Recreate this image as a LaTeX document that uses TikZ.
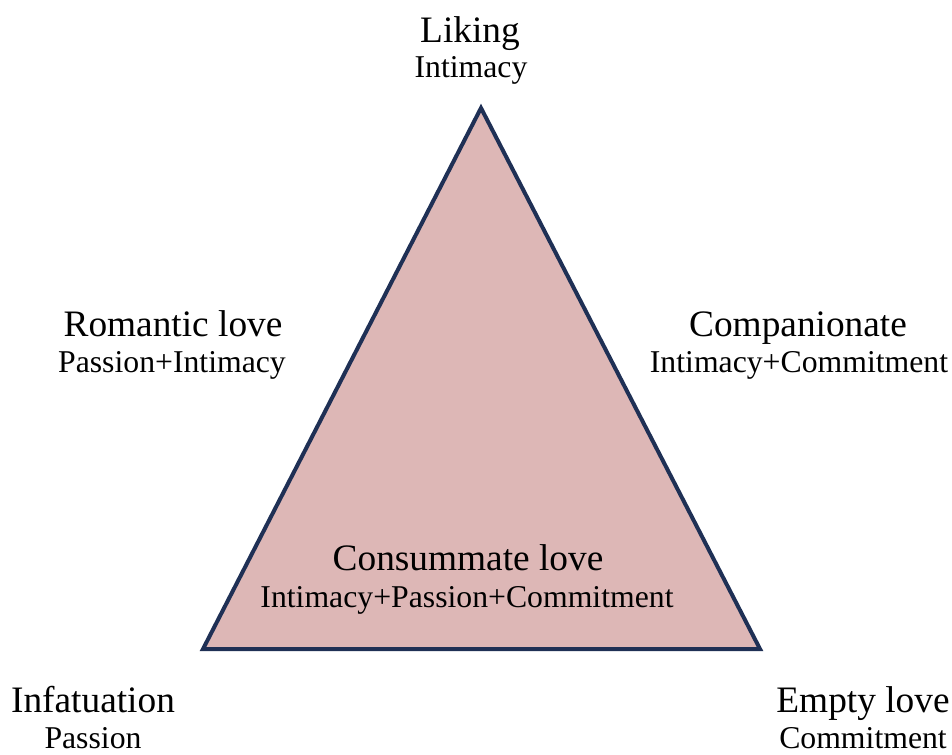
\documentclass[tikz,border=0pt]{standalone}
\usepackage{fontspec}
\setmainfont{Liberation Serif}
\definecolor{trifill}{HTML}{DDB7B6}
\definecolor{triedge}{HTML}{1F3055}
\begin{document}
\begin{tikzpicture}[x=0.75pt,y=-0.75pt,
  title/.style={anchor=base,inner sep=0pt,font=\fontsize{28}{33}\selectfont},
  sub/.style={anchor=base,inner sep=0pt,font=\fontsize{23.8}{28}\selectfont}]
\useasboundingbox (0,0) rectangle (952,754);
\coordinate (apex) at (481,108);
\coordinate (bl) at (203,649);
\coordinate (br) at (760,649);
\draw[fill=trifill,draw=triedge,line width=3pt,line join=miter] (apex) -- (bl) -- (br) -- cycle;
\node[title] (liking) at (470,42) {Liking};
\node[sub] (likingS) at (471,77) {Intimacy};
\node[title] (rom) at (173,336) {Romantic love};
\node[sub] (romS) at (172,372) {Passion+Intimacy};
\node[title] (comp) at (798,336) {Companionate};
\node[sub] (compS) at (799,372) {Intimacy+Commitment};
\node[title] (cons) at (468,570) {Consummate love};
\node[sub] (consS) at (467,607) {Intimacy+Passion+Commitment};
\node[title] (inf) at (93,712) {Infatuation};
\node[sub] (infS) at (93,748) {Passion};
\node[title] (empty) at (863,712) {Empty love};
\node[sub] (emptyS) at (863,748) {Commitment};
\end{tikzpicture}
\end{document}
